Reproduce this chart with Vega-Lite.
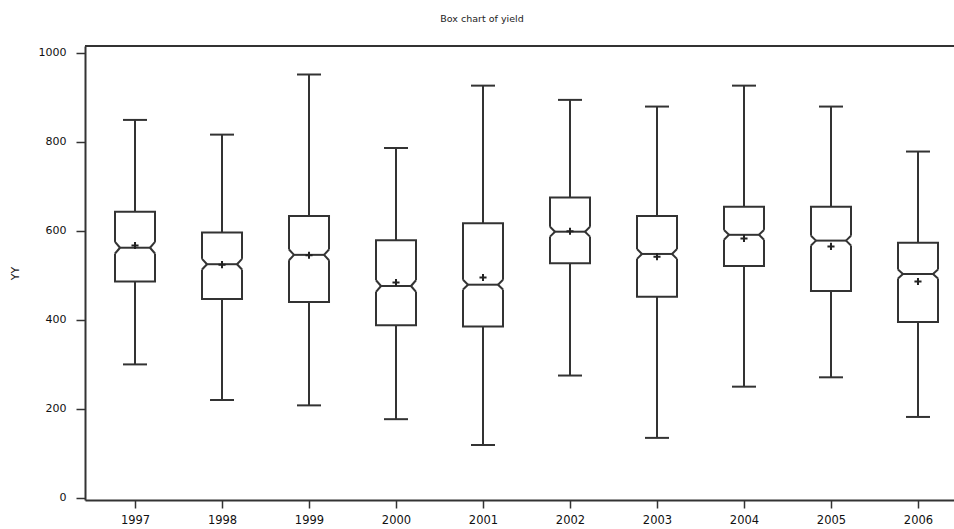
{
  "$schema": "https://vega.github.io/schema/vega-lite/v6.json",
  "autosize": {"type": "none"},
  "padding": {"left": 85, "top": 46, "right": 0, "bottom": 29},
  "width": 869,
  "height": 454,
  "background": "white",
  "title": {"text": "Box chart of yield", "font": "DejaVu Sans", "fontSize": 9.5, "fontWeight": "normal", "color": "#222", "anchor": "middle", "frame": "bounds", "offset": 22},
  "config": {
    "view": {"stroke": null},
    "axis": {"domainColor": "#333", "domainWidth": 2, "tickColor": "#333", "tickWidth": 1.5, "labelColor": "#111", "labelFont": "DejaVu Sans", "titleFont": "DejaVu Sans", "titleColor": "#222", "titleFontWeight": "normal", "grid": false}
  },
  "datasets": {
    "box": [
      {"year": 1997, "lower": 300, "q1": 486, "nlo": 549, "med": 562, "nhi": 575, "q3": 643, "upper": 849, "mean": 567},
      {"year": 1998, "lower": 220, "q1": 447, "nlo": 513, "med": 525, "nhi": 537, "q3": 596, "upper": 816, "mean": 524},
      {"year": 1999, "lower": 208, "q1": 440, "nlo": 534, "med": 546, "nhi": 558, "q3": 633, "upper": 951, "mean": 545},
      {"year": 2000, "lower": 177, "q1": 388, "nlo": 463, "med": 476, "nhi": 489, "q3": 579, "upper": 786, "mean": 484},
      {"year": 2001, "lower": 119, "q1": 385, "nlo": 468, "med": 479, "nhi": 490, "q3": 617, "upper": 926, "mean": 495},
      {"year": 2002, "lower": 275, "q1": 527, "nlo": 587, "med": 598, "nhi": 609, "q3": 675, "upper": 894, "mean": 599},
      {"year": 2003, "lower": 135, "q1": 452, "nlo": 537, "med": 548, "nhi": 559, "q3": 633, "upper": 879, "mean": 542},
      {"year": 2004, "lower": 250, "q1": 521, "nlo": 580, "med": 591, "nhi": 602, "q3": 654, "upper": 926, "mean": 583},
      {"year": 2005, "lower": 271, "q1": 465, "nlo": 567, "med": 578, "nhi": 589, "q3": 654, "upper": 879, "mean": 565},
      {"year": 2006, "lower": 182, "q1": 395, "nlo": 493, "med": 503, "nhi": 513, "q3": 573, "upper": 778, "mean": 486}
    ]
  },
  "data": {"name": "box"},
  "encoding": {
    "x": {
      "field": "year", "type": "quantitative",
      "scale": {"domain": [1996.425, 2006.414], "nice": false, "zero": false},
      "axis": {"title": null, "values": [1997, 1998, 1999, 2000, 2001, 2002, 2003, 2004, 2005, 2006], "format": "d", "tickSize": 8, "labelPadding": 6, "labelFontSize": 11.5, "labelFlush": false}
    }
  },
  "layer": [
    {"mark": {"type": "rule", "color": "#333", "strokeWidth": 2},
     "encoding": {"y": {"field": "q3", "type": "quantitative",
        "scale": {"domain": [-4.5, 1015], "nice": false, "zero": false},
        "axis": {"title": "YY", "values": [0, 200, 400, 600, 800, 1000], "format": "d", "tickSize": 9, "labelPadding": 10, "labelFontSize": 11, "titleFontSize": 11, "titlePadding": 18}},
      "y2": {"field": "upper"}}},
    {"mark": {"type": "rule", "color": "#333", "strokeWidth": 2},
     "encoding": {"y": {"field": "lower", "type": "quantitative"}, "y2": {"field": "q1"}}},
    {"mark": {"type": "rule", "color": "#333", "strokeWidth": 2, "xOffset": -11, "x2Offset": 11, "strokeCap": "square"},
     "encoding": {"x2": {"field": "year"}, "y": {"field": "upper", "type": "quantitative"}}},
    {"mark": {"type": "rule", "color": "#333", "strokeWidth": 2, "xOffset": -11, "x2Offset": 11, "strokeCap": "square"},
     "encoding": {"x2": {"field": "year"}, "y": {"field": "lower", "type": "quantitative"}}},
    {"mark": {"type": "rule", "color": "#333", "strokeWidth": 2, "xOffset": -20, "x2Offset": 20, "strokeCap": "square"},
     "encoding": {"x2": {"field": "year"}, "y": {"field": "q3", "type": "quantitative"}}},
    {"mark": {"type": "rule", "color": "#333", "strokeWidth": 2, "xOffset": -20, "x2Offset": 20, "strokeCap": "square"},
     "encoding": {"x2": {"field": "year"}, "y": {"field": "q1", "type": "quantitative"}}},
    {"mark": {"type": "rule", "color": "#333", "strokeWidth": 2, "xOffset": -20},
     "encoding": {"y": {"field": "nhi", "type": "quantitative"}, "y2": {"field": "q3"}}},
    {"mark": {"type": "rule", "color": "#333", "strokeWidth": 2, "xOffset": 20},
     "encoding": {"y": {"field": "nhi", "type": "quantitative"}, "y2": {"field": "q3"}}},
    {"mark": {"type": "rule", "color": "#333", "strokeWidth": 2, "xOffset": -20},
     "encoding": {"y": {"field": "q1", "type": "quantitative"}, "y2": {"field": "nlo"}}},
    {"mark": {"type": "rule", "color": "#333", "strokeWidth": 2, "xOffset": 20},
     "encoding": {"y": {"field": "q1", "type": "quantitative"}, "y2": {"field": "nlo"}}},
    {"mark": {"type": "rule", "color": "#333", "strokeWidth": 2, "xOffset": -20, "x2Offset": -15},
     "encoding": {"x2": {"field": "year"}, "y": {"field": "nhi", "type": "quantitative"}, "y2": {"field": "med"}}},
    {"mark": {"type": "rule", "color": "#333", "strokeWidth": 2, "xOffset": -20, "x2Offset": -15},
     "encoding": {"x2": {"field": "year"}, "y": {"field": "nlo", "type": "quantitative"}, "y2": {"field": "med"}}},
    {"mark": {"type": "rule", "color": "#333", "strokeWidth": 2, "xOffset": 20, "x2Offset": 15},
     "encoding": {"x2": {"field": "year"}, "y": {"field": "nhi", "type": "quantitative"}, "y2": {"field": "med"}}},
    {"mark": {"type": "rule", "color": "#333", "strokeWidth": 2, "xOffset": 20, "x2Offset": 15},
     "encoding": {"x2": {"field": "year"}, "y": {"field": "nlo", "type": "quantitative"}, "y2": {"field": "med"}}},
    {"mark": {"type": "rule", "color": "#333", "strokeWidth": 2, "xOffset": -15, "x2Offset": 15},
     "encoding": {"x2": {"field": "year"}, "y": {"field": "med", "type": "quantitative"}}},
    {"mark": {"type": "point", "shape": "M-1,0H1M0,-1V1", "filled": false, "color": "#222", "strokeWidth": 2, "size": 50, "opacity": 1},
     "encoding": {"y": {"field": "mean", "type": "quantitative"}}},
    {"mark": {"type": "rule", "color": "#333", "strokeWidth": 2},
     "encoding": {"x": {"datum": 1996.425, "type": "quantitative"}, "x2": {"datum": 2006.414}, "y": {"datum": 1015, "type": "quantitative"}}}
  ]
}
